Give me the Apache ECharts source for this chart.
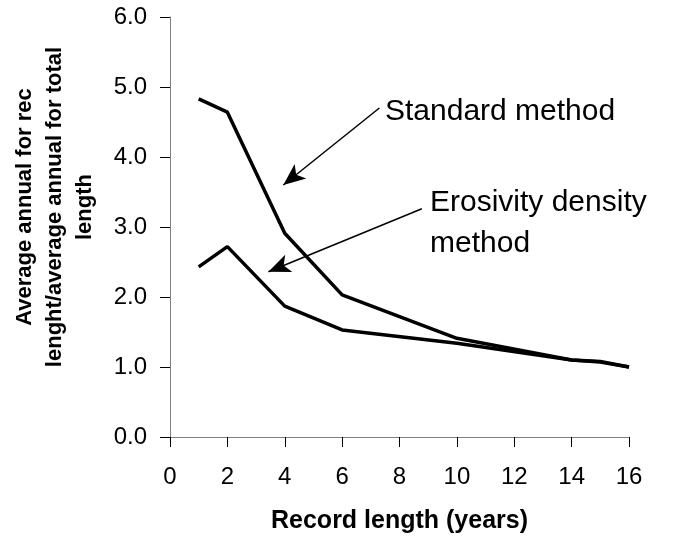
<!DOCTYPE html>
<html>
<head>
<meta charset="utf-8">
<script src="https://cdn.jsdelivr.net/npm/echarts@6/dist/echarts.min.js"></script>
<style>html,body{margin:0;padding:0;background:#fff}#c{width:673px;height:537px}</style>
</head>
<body>
<div id="c"></div>
<script>
const recordLength = [1, 2, 4, 6, 10, 14, 15, 16];
const standardMethod = [4.83, 4.64, 2.91, 2.03, 1.41, 1.10, 1.08, 1.0];
const erosivityDensity = [2.43, 2.72, 1.87, 1.53, 1.34, 1.10, 1.07, 1.0];
const yTicks = ['0.0','1.0','2.0','3.0','4.0','5.0','6.0'];
const standardArrow = [[7.3, 4.7], [3.95, 3.6]];
const erosivityArrow = [[8.78, 3.26], [3.43, 2.36]];

const font = 'Liberation Sans, Arial, sans-serif';
const chart = echarts.init(document.getElementById('c'));
function pairs(xs, ys){ return xs.map((x,i)=>[x, ys[i]]); }
chart.setOption({
  animation: false,
  grid: {left: 170, right: 44, top: 17, bottom: 100, containLabel: false, outerBoundsMode: 'none'},
  xAxis: {
    type: 'value', min: 0, max: 16, interval: 2,
    name: 'Record length (years)', nameLocation: 'middle', nameGap: 72,
    nameTextStyle: {fontFamily: font, fontSize: 25, fontWeight: 'bold', color: '#000'},
    axisLine: {lineStyle: {color: '#808080', width: 1}},
    axisTick: {show: true, length: 10, lineStyle: {color: '#000'}},
    axisLabel: {fontFamily: font, fontSize: 24, color: '#000', margin: 28},
    splitLine: {show: false}
  },
  yAxis: {
    type: 'value', min: 0, max: 6, interval: 1,
    name: 'Average annual for rec\nlenght/average annual for total\nlength',
    nameLocation: 'middle', nameGap: 70, nameRotate: 90,
    nameTextStyle: {fontFamily: font, fontSize: 22, fontWeight: 'bold', color: '#000', lineHeight: 30, align: 'center', padding: [0, 0, 0, 40]},
    axisLine: {show: true, lineStyle: {color: '#808080', width: 1}},
    axisTick: {show: true, length: 10, lineStyle: {color: '#000'}},
    axisLabel: {fontFamily: font, fontSize: 24, color: '#000', margin: 23,
      formatter: v => yTicks[Math.round(v)]},
    splitLine: {show: false}
  },
  series: [
    {name: 'Standard method', type: 'line', data: pairs(recordLength, standardMethod),
     symbol: 'none', lineStyle: {color: '#000', width: 3.5},
     markLine: {silent: true, symbol: ['none', 'arrow'], symbolSize: [14, 22],
       lineStyle: {color: '#000', width: 1.5, type: 'solid'}, label: {show: false},
       data: [[{coord: standardArrow[0]}, {coord: standardArrow[1]}]]}},
    {name: 'Erosivity density method', type: 'line', data: pairs(recordLength, erosivityDensity),
     symbol: 'none', lineStyle: {color: '#000', width: 3.5},
     markLine: {silent: true, symbol: ['none', 'arrow'], symbolSize: [14, 22],
       lineStyle: {color: '#000', width: 1.5, type: 'solid'}, label: {show: false},
       data: [[{coord: erosivityArrow[0]}, {coord: erosivityArrow[1]}]]}}
  ],
  graphic: [
    {type: 'text', left: 385, top: 97, style: {text: 'Standard method', font: '30px ' + font, fill: '#000'}},
    {type: 'text', left: 430, top: 182, style: {text: 'Erosivity density\nmethod', font: '30px ' + font, fill: '#000', lineHeight: 41}}
  ]
});
</script>
</body>
</html>
